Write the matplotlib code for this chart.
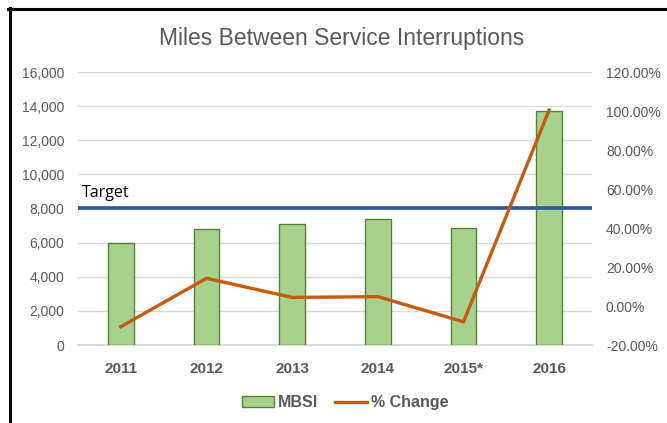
import matplotlib.pyplot as plt
from matplotlib.lines import Line2D
from matplotlib.ticker import FuncFormatter

# data
years = ['2011', '2012', '2013', '2014', '2015*', '2016']
mbsi = [5950, 6800, 7110, 7390, 6860, 13730]
pct_change = [-10.6, 14.2, 4.4, 4.8, -8.1, 100.5]
target = 8050

grey = '#595959'
plt.rcParams['font.family'] = ['Liberation Sans', 'DejaVu Sans']

fig = plt.figure(figsize=(6.67, 4.23), dpi=100)
ax = fig.add_axes([78 / 667, 78 / 423, 514 / 667, 273 / 423])
ax2 = ax.twinx()

x = list(range(len(years)))
bars = ax.bar(x, mbsi, width=0.30, color='#A9D18E', edgecolor='#548235',
              linewidth=1.0, zorder=3, label='MBSI')
ax.axhline(target, color='#2F5597', lw=2.6, zorder=4)
ax.text(0.008, 0.542, 'Target', transform=ax.transAxes, fontsize=11.5,
        va='baseline', color='black', family=['Open Sans', 'DejaVu Sans'])

line, = ax2.plot(x, pct_change, color='#C55A11', lw=2.4, zorder=5,
                 solid_joinstyle='miter', label='% Change')

ax.set_xlim(-0.5, 5.5)
ax.set_ylim(0, 16000)
ax.set_yticks(range(0, 16001, 2000))
ax.yaxis.set_major_formatter(FuncFormatter(lambda v, p: f'{int(v):,}'))
ax2.set_ylim(-20, 120)
ax2.set_yticks(range(-20, 121, 20))
ax2.yaxis.set_major_formatter(FuncFormatter(lambda v, p: f'{v:.2f}%'))

ax.grid(axis='y', color='#D9D9D9', lw=1.0, zorder=0)
ax.set_axisbelow(True)
for a in (ax, ax2):
    for s in a.spines.values():
        s.set_visible(False)
    a.tick_params(length=0, labelsize=10, labelcolor=grey)
ax.spines['bottom'].set_visible(True)
ax.spines['bottom'].set_color('#D9D9D9')
ax.spines['bottom'].set_linewidth(1.5)
ax.tick_params(axis='y', pad=10)
ax2.tick_params(axis='y', pad=10)
ax.set_xticks(x)
ax.set_xticklabels(years, fontweight='bold', fontsize=11)
ax.tick_params(axis='x', pad=12)

fig.text(0.512, 0.91, 'Miles Between Service Interruptions', ha='center',
         va='center', fontsize=16.5, color=grey,
         family=['Liberation Sans Narrow', 'Liberation Sans'])

leg = fig.legend([bars, line], ['MBSI', '% Change'], loc='center',
                 bbox_to_anchor=(0.517, 0.048), ncol=2, frameon=False,
                 handlelength=2.0, handletextpad=0.25, columnspacing=1.05,
                 prop={'weight': 'bold', 'size': 11.5})
for t in leg.get_texts():
    t.set_color(grey)

# black frame on the left and top of the picture
fig.add_artist(Line2D([9.5 / 667, 9.5 / 667], [0, 1 - 8 / 423], color='black',
                      lw=2.2, transform=fig.transFigure))
fig.add_artist(Line2D([8 / 667, 1], [1 - 9.5 / 423, 1 - 9.5 / 423],
                      color='black', lw=2.2, transform=fig.transFigure))

fig.savefig('out.png', dpi=100)
